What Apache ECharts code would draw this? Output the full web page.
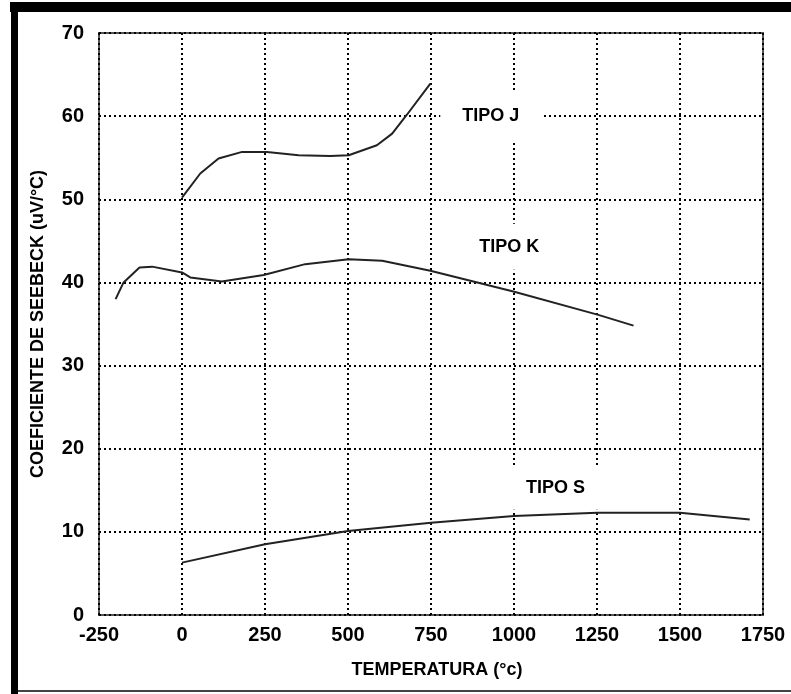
<!DOCTYPE html>
<html>
<head>
<meta charset="utf-8">
<script src="https://cdn.jsdelivr.net/npm/echarts@6/dist/echarts.min.js"></script>
<style>
   html, body { margin: 0; padding: 0; background: #fff; }
   #chart { width: 791px; height: 694px; }
</style>
</head>
<body>
<div id="chart"></div>
<script>
// curve readings, temperature (°C) -> Seebeck coefficient (uV/°C)
var jTemps = [0, 55, 110, 181, 256, 351, 447, 502, 587, 633, 678, 748];
var jCoef  = [50.2, 53.1, 54.9, 55.7, 55.7, 55.3, 55.2, 55.3, 56.5, 57.9, 60.2, 63.9];

var kTemps = [-200, -176, -128, -90, 0, 25, 120, 246, 371, 502, 603, 748, 998, 1254, 1360];
var kCoef  = [38.0, 40.0, 41.8, 41.9, 41.2, 40.6, 40.1, 40.9, 42.2, 42.8, 42.6, 41.4, 38.9, 36.1, 34.8];

var sTemps = [0, 250, 500, 750, 1000, 1250, 1500, 1710];
var sCoef  = [6.3, 8.5, 10.1, 11.1, 11.9, 12.3, 12.3, 11.5];

var curveNames = ['TIPO J', 'TIPO K', 'TIPO S'];
// where each name sits, in chart units
var nameAt = [[930, 60], [986, 44.3], [1125, 15.3]];

var FONT = '"Liberation Sans", Arial, sans-serif';

var pairs = function(xs, ys) {
   var out = [];
   for(var i = 0; i < xs.length; i++) {
      out.push([xs[i], ys[i]]);
   }
   return out;
};

var makeSeries = function(idx, xs, ys, pad) {
   return {
      name: curveNames[idx],
      type: 'line',
      data: pairs(xs, ys),
      showSymbol: false,
      symbol: 'none',
      lineStyle: { color: '#222', width: 2 },
      markPoint: {
         symbol: 'rect',
         symbolSize: 1,
         itemStyle: { color: 'rgba(0,0,0,0)' },
         label: {
            show: true,
            formatter: curveNames[idx],
            color: '#000',
            fontFamily: FONT,
            fontWeight: 'bold',
            fontSize: 18,
            backgroundColor: '#fff',
            padding: pad
         },
         data: [{ coord: nameAt[idx] }]
      }
   };
};

var chart = echarts.init(document.getElementById('chart'));

var dotted = { color: '#000', width: 2, type: [2, 3] };
var tickFont = { color: '#000', fontFamily: FONT, fontWeight: 'bold', fontSize: 20 };

var option = {
   animation: false,
   backgroundColor: '#fff',
   grid: {
      left: 99, right: 28, top: 33, bottom: 79,
      show: true,
      borderColor: '#555',
      borderWidth: 2
   },
   xAxis: {
      type: 'value',
      min: -250, max: 1750, interval: 250,
      name: 'TEMPERATURA (°c)',
      nameLocation: 'middle',
      nameGap: 46,
      nameTextStyle: { color: '#000', fontFamily: FONT, fontWeight: 'bold', fontSize: 18, padding: [0, 0, 0, 12] },
      axisLine: { show: false },
      axisTick: { show: false },
      axisLabel: Object.assign({
         margin: 10,
         formatter: function(v) { return String(v); }
      }, tickFont),
      splitLine: { show: true, lineStyle: dotted }
   },
   yAxis: {
      type: 'value',
      min: 0, max: 70, interval: 10,
      name: 'COEFICIENTE DE SEEBECK (uV/°C)',
      nameLocation: 'middle',
      nameGap: 52,
      nameRotate: 90,
      nameTextStyle: { color: '#000', fontFamily: FONT, fontWeight: 'bold', fontSize: 18 },
      axisLine: { show: false },
      axisTick: { show: false },
      axisLabel: Object.assign({ margin: 15 }, tickFont),
      splitLine: { show: true, lineStyle: dotted }
   },
   graphic: [
      { type: 'rect', shape: { x: 10, y: 2, width: 781, height: 10 }, style: { fill: '#000' } },
      { type: 'rect', shape: { x: 11, y: 2, width: 7, height: 692 }, style: { fill: '#000' } },
      { type: 'rect', shape: { x: 18, y: 690, width: 773, height: 2 }, style: { fill: '#444' } }
   ],
   series: [
      makeSeries(0, jTemps, jCoef, [15, 22]),
      makeSeries(1, kTemps, kCoef, [14, 22]),
      makeSeries(2, sTemps, sCoef, [13, 22])
   ]
};

chart.setOption(option);
</script>
</body>
</html>
